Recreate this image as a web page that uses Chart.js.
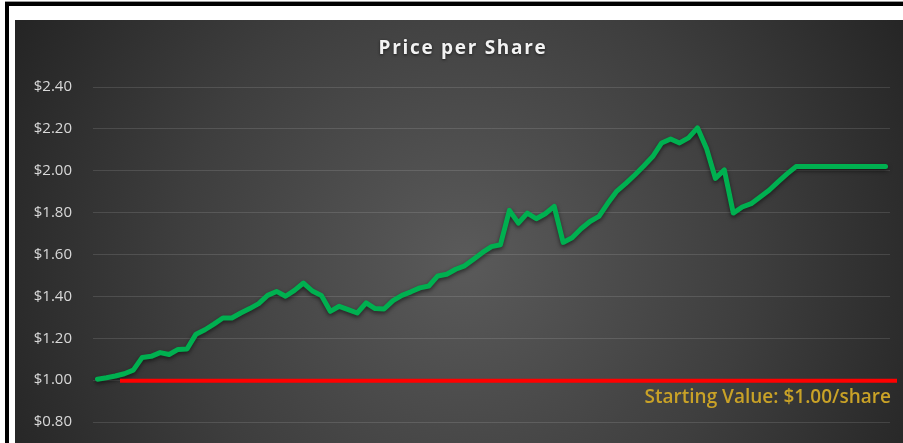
<!DOCTYPE html>
<html>
<head>
<meta charset="utf-8">
<script src="https://cdn.jsdelivr.net/npm/chart.js@4.4.1/dist/chart.umd.min.js"></script>
<style>
  html, body { margin: 0; padding: 0; background: #fff; overflow: hidden; }
  #frame {
    position: absolute; left: 5px; top: 2px;
    width: 898px; height: 441px;
    border-left: 4px solid #000; border-top: 4px solid #000;
    box-shadow: 0 -1px 0 #9a9a9a;
    overflow: hidden;
  }
  #holder { position: absolute; left: 6px; top: 14px; width: 888px; height: 423px; overflow: hidden; }
  canvas { display: block; }
</style>
</head>
<body>
<div id="frame"><div id="holder"><canvas id="priceChart" width="888" height="474"></canvas></div></div>
<script>
// DATA
const chartTitle = 'Price per Share';
const startLabel = 'Starting Value: $1.00/share';
const startValue = 1.00;

const weeks = [];
for (let w = 1; w <= 89; w++) weeks.push('W' + w);

const prices = [
    1.005, 1.012, 1.020, 1.031, 1.048, 1.109, 1.114, 1.132, 1.123, 1.147,
    1.149, 1.220, 1.241, 1.268, 1.297, 1.297, 1.321, 1.342, 1.366, 1.405,
    1.424, 1.401, 1.429, 1.464, 1.426, 1.405, 1.329, 1.353, 1.337, 1.321,
    1.369, 1.342, 1.340, 1.380, 1.405, 1.422, 1.441, 1.450, 1.498, 1.506,
    1.530, 1.546, 1.578, 1.610, 1.638, 1.647, 1.811, 1.750, 1.798, 1.771,
    1.795, 1.830, 1.658, 1.680, 1.723, 1.758, 1.782, 1.846, 1.903, 1.940,
    1.980, 2.023, 2.068, 2.133, 2.152, 2.133, 2.157, 2.205, 2.108, 1.964,
    2.004, 1.798, 1.827, 1.843, 1.875, 1.907, 1.947, 1.985, 2.020, 2.020,
    2.020, 2.020, 2.020, 2.020, 2.020, 2.020, 2.020, 2.020, 2.020
];

const yMin = 0.60;
const yMax = 2.40;
const yStep = 0.20;

// dark radial backdrop + title
const backdrop = {
    id: 'backdrop',
    beforeDraw(chart) {
        const ctx = chart.ctx;
        const w = chart.width, h = chart.height;
        const g = ctx.createRadialGradient(450, 240, 0, 450, 240, 520);
        g.addColorStop(0, '#5a5a5a');
        g.addColorStop(0.55, '#3e3e3e');
        g.addColorStop(1, '#232323');
        ctx.save();
        ctx.fillStyle = g;
        ctx.fillRect(0, 0, w, h);
        ctx.restore();
    },
    afterDraw(chart) {
        const ctx = chart.ctx;
        ctx.save();
        ctx.font = 'bold 19px "Open Sans"';
        ctx.letterSpacing = '1.7px';
        ctx.fillStyle = '#f2f2f2';
        ctx.textAlign = 'center';
        ctx.textBaseline = 'middle';
        ctx.shadowColor = 'rgba(0,0,0,0.6)';
        ctx.shadowBlur = 3;
        ctx.shadowOffsetY = 1;
        ctx.fillText(chartTitle, 448, 29);
        ctx.restore();
    }
};

// shadow under the price line
const lineShadow = {
    id: 'lineShadow',
    beforeDatasetsDraw(chart) {
        const ctx = chart.ctx;
        ctx.save();
        ctx.shadowColor = 'rgba(0,0,0,0.55)';
        ctx.shadowBlur = 4;
        ctx.shadowOffsetY = 2;
    },
    afterDatasetsDraw(chart) {
        chart.ctx.restore();
    }
};

// red starting value line + label
const startLine = {
    id: 'startLine',
    afterDraw(chart) {
        const ctx = chart.ctx;
        const y = chart.scales.y.getPixelForValue(startValue);
        ctx.save();
        ctx.strokeStyle = '#ff0000';
        ctx.lineWidth = 4;
        ctx.beginPath();
        ctx.moveTo(105, y + 0.5);
        ctx.lineTo(882, y + 0.5);
        ctx.stroke();
        ctx.font = '600 19px "Open Sans"';
        ctx.fillStyle = '#c9a227';
        ctx.textAlign = 'right';
        ctx.textBaseline = 'middle';
        ctx.fillText(startLabel, 876, y + 17);
        ctx.restore();
    }
};

var ctxPrice = document.getElementById('priceChart').getContext('2d');
var priceChart = new Chart(ctxPrice, {
    type: 'line',
    data: {
        labels: weeks,
        datasets: [{
            label: 'Price',
            data: prices,
            borderColor: '#00b050',
            borderWidth: 5,
            pointRadius: 0,
            borderJoinStyle: 'round',
            borderCapStyle: 'round',
            tension: 0,
            fill: false
        }]
    },
    options: {
        responsive: false,
        animation: false,
        layout: { padding: { top: 67, right: 13, bottom: 13, left: 0 } },
        plugins: {
            legend: { display: false },
            title: { display: false },
            tooltip: { enabled: false }
        },
        scales: {
            x: {
                offset: true,
                ticks: { display: false },
                grid: { display: false },
                border: { display: false }
            },
            y: {
                min: yMin,
                max: yMax,
                afterFit(scale) { scale.width = 78; },
                ticks: {
                    stepSize: yStep,
                    padding: 21,
                    color: '#d9d9d9',
                    font: { family: '"Open Sans"', size: 15 },
                    callback: v => '$' + Number(v).toFixed(2)
                },
                grid: { color: 'rgba(255,255,255,0.12)', lineWidth: 1, drawTicks: false },
                border: { display: false }
            }
        }
    },
    plugins: [backdrop, lineShadow, startLine]
});
</script>
</body>
</html>
